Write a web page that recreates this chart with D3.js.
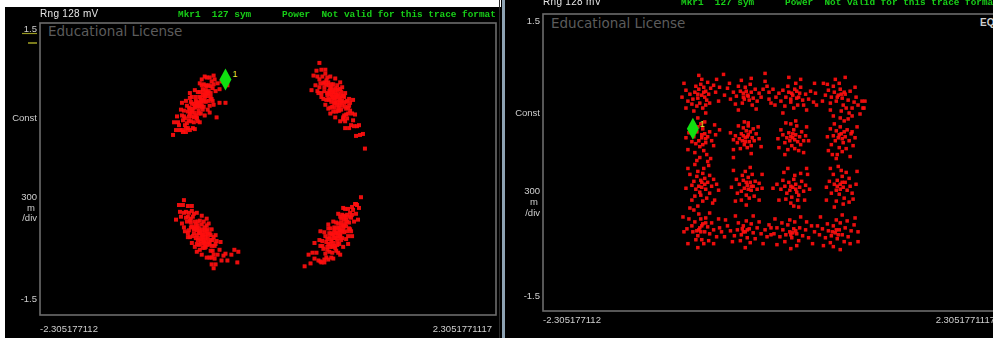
<!DOCTYPE html>
<html>
<head>
<meta charset="utf-8">
<script src="https://cdn.jsdelivr.net/npm/d3@7"></script>
<style>
  html, body { margin: 0; padding: 0; background: #ffffff; }
  svg { display: block; }
</style>
</head>
<body>
<svg id="chart" width="993" height="338"></svg>
<script>
// ---- Axis ranges and labels (I on x, Q on y) ----
const iDomain = [-2.3051771112, 2.3051771117];
const qDomain = [-1.5, 1.5];
const xTickLabels = ["-2.305177112", "2.3051771117"];
const yTopLabel = "1.5";
const yBottomLabel = "-1.5";
const yMidLabels = ["Const"];
const yScaleLabels = ["300", "m", "/div"];
const rangeLabel = "Rng 128 mV";
const markerReadout = ["Mkr1", "127 sym"];
const powerReadout = ["Power", "Not valid for this trace format"];
const licenseText = "Educational License";

// ---- QPSK measured symbols [I, Q] ----
const qpskUpperLeft = [
  [-0.69,0.68],[-0.66,0.79],[-0.73,0.55],[-0.63,0.69],[-0.77,0.67],[-0.68,0.57],[-0.71,0.79],[-0.60,0.80],
  [-0.80,0.54],[-0.75,0.48],[-0.65,0.87],[-0.82,0.65],[-0.57,0.72],[-0.78,0.49],[-0.62,0.85],[-0.84,0.52],
  [-0.55,0.87],[-0.72,0.69],[-0.67,0.67],[-0.76,0.62],[-0.64,0.75],[-0.87,0.55],[-0.89,0.40],[-0.86,0.38],
  [-0.91,0.48],[-0.93,0.40],[-0.88,0.61],[-0.95,0.48],[-0.83,0.38],[-0.79,0.73],[-0.59,0.65],[-0.53,0.80],
  [-0.51,0.88],[-0.49,0.82],[-0.54,0.92],[-0.47,0.90],[-0.74,0.58],[-0.69,0.74],[-0.70,0.60],[-0.61,0.75],
  [-0.81,0.59],[-0.58,0.85],[-0.73,0.74],[-0.66,0.61],[-0.85,0.60],[-0.56,0.70],[-0.77,0.54],[-0.63,0.86],
  [-0.90,0.45],[-0.92,0.54],[-0.65,0.70],[-0.71,0.68],[-0.79,0.57],[-0.68,0.73],[-0.75,0.67],[-0.60,0.70],
  [-0.82,0.47],[-0.72,0.53],[-0.62,0.79],[-0.96,0.35],[-0.49,0.68],[-0.43,0.68],[-0.52,0.53],[-0.41,0.86],
  [-0.67,0.92],[-0.45,0.90],[-0.70,0.65],[-0.67,0.71],[-0.74,0.63],[-0.64,0.73],[-0.77,0.60],[-0.72,0.66],
  [-0.66,0.76],[-0.79,0.62],[-0.61,0.78],[-0.84,0.45],[-0.80,0.50],[-0.86,0.50],[-0.58,0.78],[-0.43,0.92],
  [-0.69,0.88],[-0.69,0.48],[-0.64,0.95],[-0.74,0.81],[-0.74,0.41],[-0.64,0.55],[-0.59,0.94],[-0.79,0.40],
  [-0.79,0.78],[-0.59,0.58],[-0.55,0.96],[-0.83,0.70],[-0.83,0.42],[-0.55,0.66],[-0.87,0.68],[-0.87,0.40],
  [-0.67,0.86],[-0.71,0.49],[-0.62,0.94],[-0.76,0.42],[-0.61,0.61],[-0.77,0.74],[-0.57,0.90],[-0.81,0.42],
  [-0.66,0.82],[-0.72,0.52],[-0.69,0.79],[-0.70,0.57],[-0.63,0.81],[-0.75,0.53],[-0.65,0.64],[-0.73,0.70],
  [-0.60,0.86],[-0.78,0.69],[-0.58,0.74],[-0.80,0.63],[-0.68,0.70],[-0.72,0.64],[-0.67,0.64],[-0.74,0.65],
  [-0.63,0.77],[-0.77,0.58],[-0.56,0.83],[-0.85,0.54],[-0.69,0.64]
];
const qpskUpperRight = [
  [0.68,0.73],[0.71,0.77],[0.64,0.69],[0.74,0.61],[0.61,0.86],[0.69,0.59],[0.66,0.87],[0.77,0.68],
  [0.57,0.80],[0.63,0.63],[0.73,0.82],[0.55,0.95],[0.80,0.52],[0.59,0.71],[0.76,0.75],[0.53,0.88],
  [0.82,0.65],[0.65,0.79],[0.70,0.69],[0.62,0.80],[0.72,0.71],[0.50,0.95],[0.48,0.86],[0.51,0.78],
  [0.46,0.96],[0.86,0.50],[0.88,0.56],[0.84,0.45],[0.90,0.44],[0.58,0.98],[0.78,0.49],[0.68,0.79],
  [0.67,0.67],[0.75,0.65],[0.56,0.88],[0.79,0.69],[0.64,0.87],[0.71,0.60],[0.52,0.84],[0.81,0.57],
  [0.60,0.76],[0.74,0.79],[0.83,0.68],[0.49,1.01],[0.72,0.65],[0.66,0.77],[0.77,0.55],[0.62,0.77],
  [0.69,0.76],[0.73,0.73],[0.59,0.87],[0.85,0.57],[0.54,0.78],[0.70,0.81],[0.76,0.53],[0.65,0.73],
  [0.78,0.64],[0.61,0.89],[0.87,0.44],[0.92,0.45],[0.93,0.35],[0.89,0.34],[0.96,0.36],[0.44,0.81],
  [0.98,0.21],[0.52,1.09],[0.67,0.71],[0.70,0.75],[0.64,0.76],[0.73,0.68],[0.61,0.72],[0.75,0.70],
  [0.66,0.81],[0.79,0.62],[0.57,0.84],[0.83,0.60],[0.71,0.63],[0.63,0.83],
  [0.68,0.93],[0.68,0.53],[0.73,0.89],[0.63,0.95],[0.63,0.57],[0.73,0.49],[0.78,0.78],[0.58,0.66],
  [0.58,1.02],[0.78,0.42],[0.82,0.72],[0.54,1.02],[0.54,0.74],[0.82,0.42],[0.86,0.71],[0.50,0.80],
  [0.70,0.86],[0.66,0.59],[0.75,0.84],[0.61,0.62],[0.76,0.51],[0.60,0.94],[0.80,0.70],[0.56,0.72],
  [0.71,0.82],[0.65,0.64],[0.68,0.83],[0.67,0.63],[0.74,0.75],[0.62,0.71],[0.72,0.60],[0.64,0.84],
  [0.77,0.74],[0.59,0.91],[0.79,0.56],[0.57,0.89],[0.69,0.74],[0.65,0.74],[0.70,0.66],[0.63,0.81],
  [0.74,0.69],[0.60,0.78],[0.81,0.63],[0.52,0.92],[0.68,0.68]
];
const qpskLowerLeft = [
  [-0.67,-0.68],[-0.64,-0.63],[-0.71,-0.73],[-0.61,-0.78],[-0.74,-0.54],[-0.66,-0.81],[-0.69,-0.53],[-0.58,-0.73],
  [-0.78,-0.60],[-0.72,-0.77],[-0.62,-0.58],[-0.80,-0.45],[-0.55,-0.88],[-0.76,-0.69],[-0.59,-0.66],[-0.82,-0.54],
  [-0.53,-0.77],[-0.70,-0.61],[-0.65,-0.73],[-0.74,-0.60],[-0.63,-0.70],[-0.85,-0.45],[-0.87,-0.56],[-0.84,-0.64],
  [-0.89,-0.44],[-0.86,-0.37],[-0.81,-0.70],[-0.77,-0.43],[-0.57,-0.91],[-0.51,-0.88],[-0.49,-0.83],[-0.47,-0.94],
  [-0.52,-0.74],[-0.45,-0.89],[-0.72,-0.68],[-0.67,-0.62],[-0.68,-0.74],[-0.59,-0.77],[-0.79,-0.53],[-0.56,-0.73],
  [-0.71,-0.54],[-0.64,-0.81],[-0.83,-0.44],[-0.54,-0.92],[-0.75,-0.66],[-0.61,-0.62],[-0.88,-0.49],[-0.90,-0.37],
  [-0.63,-0.74],[-0.69,-0.64],[-0.77,-0.59],[-0.66,-0.65],[-0.73,-0.57],[-0.58,-0.84],[-0.80,-0.63],[-0.43,-0.87],
  [-0.41,-0.94],[-0.48,-0.75],[-0.34,-0.83],[-0.30,-0.85],[-0.37,-0.88],[-0.31,-0.96],[-0.93,-0.52],[-0.55,-1.02],
  [-0.66,-0.70],[-0.69,-0.66],[-0.63,-0.67],[-0.72,-0.63],[-0.60,-0.75],[-0.75,-0.61],[-0.64,-0.77],[-0.78,-0.55],
  [-0.57,-0.79],[-0.81,-0.49],[-0.70,-0.71],[-0.62,-0.64],
  [-0.67,-0.48],[-0.67,-0.88],[-0.62,-0.51],[-0.72,-0.45],[-0.72,-0.85],[-0.62,-0.91],[-0.57,-0.62],[-0.77,-0.76],
  [-0.77,-0.38],[-0.57,-0.98],[-0.53,-0.68],[-0.81,-0.38],[-0.81,-0.66],[-0.53,-0.98],[-0.85,-0.32],[-0.85,-0.60],
  [-0.65,-0.54],[-0.69,-0.83],[-0.60,-0.56],[-0.74,-0.80],[-0.59,-0.91],[-0.75,-0.46],[-0.55,-0.70],[-0.79,-0.70],
  [-0.64,-0.60],[-0.70,-0.78],[-0.67,-0.57],[-0.68,-0.77],[-0.61,-0.67],[-0.73,-0.71],[-0.63,-0.80],[-0.71,-0.58],
  [-0.58,-0.68],[-0.76,-0.49],[-0.56,-0.84],[-0.78,-0.51],[-0.66,-0.68],[-0.70,-0.66],[-0.65,-0.76],[-0.72,-0.61],
  [-0.61,-0.71],[-0.75,-0.62],[-0.54,-0.79],[-0.83,-0.50],[-0.67,-0.72]
];
const qpskLowerRight = [
  [0.71,-0.66],[0.74,-0.55],[0.67,-0.79],[0.77,-0.65],[0.64,-0.66],[0.72,-0.77],[0.69,-0.55],[0.80,-0.54],
  [0.60,-0.80],[0.65,-0.86],[0.75,-0.47],[0.58,-0.69],[0.83,-0.62],[0.62,-0.85],[0.78,-0.49],[0.56,-0.82],
  [0.85,-0.47],[0.68,-0.65],[0.73,-0.67],[0.64,-0.72],[0.76,-0.59],[0.53,-0.79],[0.51,-0.94],[0.54,-0.96],
  [0.49,-0.86],[0.52,-0.73],[0.57,-0.96],[0.61,-0.61],[0.81,-0.69],[0.87,-0.54],[0.89,-0.46],[0.91,-0.52],
  [0.86,-0.42],[0.90,-0.37],[0.66,-0.76],[0.71,-0.60],[0.70,-0.74],[0.79,-0.59],[0.59,-0.75],[0.82,-0.49],
  [0.67,-0.60],[0.74,-0.73],[0.55,-0.74],[0.84,-0.64],[0.63,-0.80],[0.77,-0.48],[0.47,-0.92],[0.45,-0.86],
  [0.75,-0.64],[0.69,-0.66],[0.61,-0.77],[0.72,-0.61],[0.65,-0.67],[0.80,-0.64],[0.58,-0.87],[0.88,-0.36],
  [0.92,-0.40],[0.43,-0.97],[0.37,-1.00],[0.41,-0.88],[0.47,-0.76],[0.53,-0.64],[0.94,-0.29],[0.73,-0.88],
  [0.70,-0.69],[0.73,-0.63],[0.67,-0.71],[0.76,-0.62],[0.64,-0.74],[0.78,-0.56],[0.62,-0.70],[0.74,-0.58],
  [0.68,-0.61],[0.82,-0.55],[0.60,-0.83],[0.79,-0.52],
  [0.71,-0.46],[0.71,-0.86],[0.76,-0.40],[0.66,-0.54],[0.66,-0.92],[0.76,-0.80],[0.81,-0.41],[0.61,-0.93],
  [0.61,-0.57],[0.81,-0.77],[0.85,-0.39],[0.57,-0.65],[0.57,-0.93],[0.85,-0.69],[0.89,-0.36],[0.53,-0.95],
  [0.73,-0.49],[0.69,-0.84],[0.78,-0.41],[0.64,-0.91],[0.79,-0.72],[0.63,-0.61],[0.83,-0.45],[0.59,-0.91],
  [0.74,-0.51],[0.68,-0.81],[0.71,-0.56],[0.70,-0.78],[0.77,-0.52],[0.65,-0.80],[0.75,-0.71],[0.67,-0.63],
  [0.80,-0.47],[0.62,-0.66],[0.82,-0.61],[0.60,-0.72],[0.72,-0.63],[0.68,-0.71],[0.73,-0.69],[0.66,-0.68],
  [0.77,-0.58],[0.63,-0.77],[0.84,-0.50],[0.55,-0.79],[0.71,-0.71]
];
const qpskMarker = [-0.43, 0.92];

// ---- 16-QAM measured symbols [I, Q], row by row from the top ----
const qamRow1 = [
  [-0.70,0.68],[-0.66,0.72],[-0.74,0.65],[-0.68,0.76],[-0.63,0.69],[-0.77,0.71],[-0.72,0.60],[-0.65,0.63],
  [-0.79,0.64],[-0.61,0.75],[-0.71,0.79],[-0.75,0.57],[-0.67,0.66],[-0.73,0.74],[-0.82,0.69],[-0.64,0.81],
  [-0.69,0.55],[-0.58,0.78],[-0.76,0.77],[-0.80,0.59],[-0.62,0.60],[-0.84,0.62],[-0.70,0.84],[-0.56,0.71],
  [-0.78,0.52],[-0.66,0.58],[-0.86,0.73],
  [-0.86,0.55],[-0.55,0.84],[-0.88,0.80],[-0.53,0.62],[-0.73,0.88],[-0.66,0.50],[-0.90,0.66],[-0.52,0.76],
  [-0.74,0.69],[-0.68,0.71],
  [-0.24,0.68],[-0.20,0.71],[-0.28,0.66],[-0.16,0.74],[-0.31,0.72],[-0.22,0.63],[-0.26,0.76],[-0.12,0.70],
  [-0.35,0.67],[-0.18,0.65],[-0.29,0.60],[-0.21,0.79],[-0.08,0.74],[-0.38,0.71],[-0.14,0.62],[-0.33,0.77],
  [-0.25,0.72],[-0.04,0.77],[-0.41,0.64],[-0.19,0.58],[-0.30,0.83],[-0.10,0.66],[-0.36,0.59],[-0.27,0.64],
  [-0.02,0.71],[-0.44,0.75],
  [-0.47,0.68],[-0.02,0.64],[-0.20,0.85],[-0.33,0.53],[-0.06,0.82],[-0.42,0.80],[-0.15,0.54],[-0.23,0.67],
  [-0.28,0.70],[0.00,0.60],
  [0.22,0.68],[0.26,0.65],[0.18,0.71],[0.29,0.70],[0.15,0.66],[0.24,0.74],[0.20,0.61],[0.32,0.63],
  [0.12,0.73],[0.27,0.58],[0.35,0.69],[0.17,0.77],[0.10,0.62],[0.30,0.76],[0.23,0.55],[0.38,0.64],
  [0.08,0.70],[0.25,0.80],[0.14,0.57],[0.33,0.58],[0.40,0.72],[0.05,0.66],[0.20,0.64],[0.28,0.66],[0.43,0.61],
  [0.45,0.70],[0.02,0.74],[0.30,0.84],[0.12,0.50],[0.36,0.53],[0.18,0.86],[0.46,0.58],[0.21,0.70],
  [0.26,0.72],[0.04,0.58],
  [0.68,0.68],[0.72,0.65],[0.64,0.71],[0.70,0.74],[0.75,0.69],[0.61,0.66],[0.66,0.62],[0.78,0.63],
  [0.73,0.58],[0.63,0.77],[0.80,0.72],[0.58,0.73],[0.69,0.80],[0.84,0.61],[0.76,0.55],[0.60,0.60],
  [0.86,0.66],[0.71,0.52],[0.55,0.68],[0.82,0.55],[0.65,0.84],[0.88,0.58],[0.79,0.50],[0.74,0.71],
  [0.90,0.49],[0.57,0.79],
  [0.92,0.62],[0.52,0.62],[0.75,0.86],[0.60,0.53],[0.94,0.55],[0.85,0.76],[0.82,0.47],[0.67,0.66],
  [0.71,0.69],[0.53,0.80]
];
const qamRow2 = [
  [-0.70,0.25],[-0.67,0.29],[-0.73,0.22],[-0.66,0.20],[-0.75,0.31],[-0.69,0.34],[-0.64,0.26],[-0.72,0.16],
  [-0.78,0.26],[-0.62,0.31],[-0.71,0.39],[-0.68,0.12],[-0.76,0.19],[-0.60,0.22],[-0.74,0.36],[-0.80,0.21],
  [-0.65,0.08],[-0.72,0.05],[-0.58,0.17],[-0.83,0.30],[-0.67,0.41],[-0.61,0.04],[-0.77,0.10],[-0.69,0.18],
  [-0.86,0.25],[-0.56,0.28],[-0.74,0.45],[-0.64,0.01],[-0.84,0.13],[-0.57,0.38],[-0.79,0.40],[-0.70,0.28],
  [-0.66,0.24],[-0.75,0.02],
  [-0.26,0.25],[-0.23,0.28],[-0.29,0.22],[-0.22,0.21],[-0.30,0.29],[-0.25,0.32],[-0.19,0.25],[-0.32,0.24],
  [-0.27,0.18],[-0.21,0.31],[-0.34,0.20],[-0.24,0.15],[-0.17,0.22],[-0.28,0.35],[-0.36,0.27],[-0.20,0.17],
  [-0.31,0.14],[-0.15,0.29],[-0.26,0.21],[-0.23,0.37],[-0.38,0.23],[-0.18,0.34],
  [-0.41,0.30],[-0.12,0.24],[-0.27,0.41],[-0.20,0.09],[-0.38,0.13],[-0.13,0.36],[-0.33,0.37],[-0.24,0.26],
  [-0.28,0.27],[-0.10,0.16],
  [0.22,0.25],[0.25,0.28],[0.19,0.22],[0.27,0.21],[0.18,0.30],[0.23,0.33],[0.29,0.26],[0.16,0.25],
  [0.21,0.17],[0.31,0.31],[0.14,0.20],[0.26,0.37],[0.24,0.14],[0.33,0.22],[0.12,0.28],[0.20,0.39],
  [0.28,0.12],[0.35,0.27],[0.17,0.13],[0.30,0.18],[0.10,0.33],[0.22,0.29],
  [0.38,0.22],[0.07,0.24],[0.25,0.42],[0.14,0.08],[0.36,0.36],[0.08,0.15],[0.33,0.10],[0.20,0.26],
  [0.24,0.23],[0.15,0.40],
  [0.68,0.25],[0.71,0.29],[0.65,0.22],[0.73,0.20],[0.66,0.32],[0.70,0.36],[0.75,0.26],[0.63,0.27],
  [0.69,0.15],[0.77,0.33],[0.72,0.11],[0.64,0.39],[0.79,0.22],[0.61,0.18],[0.74,0.42],[0.67,0.08],
  [0.81,0.29],[0.70,0.45],[0.76,0.14],[0.60,0.34],[0.83,0.17],[0.66,0.04],[0.72,0.24],
  [0.85,0.25],[0.57,0.26],[0.78,0.44],[0.63,0.47],[0.87,0.36],[0.62,0.08],[0.80,0.06],[0.69,0.28],
  [0.74,0.31],[0.58,0.12]
];
const qamRow3 = [
  [-0.70,-0.20],[-0.67,-0.16],[-0.73,-0.24],[-0.66,-0.27],[-0.75,-0.14],[-0.69,-0.11],[-0.64,-0.20],[-0.72,-0.30],
  [-0.78,-0.19],[-0.62,-0.13],[-0.71,-0.33],[-0.68,-0.06],[-0.76,-0.27],[-0.60,-0.24],[-0.74,-0.09],[-0.80,-0.23],
  [-0.65,-0.36],[-0.58,-0.17],[-0.82,-0.12],[-0.69,-0.39],[-0.62,-0.31],[-0.77,-0.34],[-0.55,-0.22],[-0.70,-0.25],
  [-0.86,-0.26],[-0.53,-0.28],[-0.74,-0.44],[-0.63,-0.03],[-0.84,-0.06],[-0.57,-0.38],[-0.80,-0.38],[-0.71,-0.18],
  [-0.67,-0.22],[-0.77,-0.02],
  [-0.24,-0.23],[-0.21,-0.20],[-0.27,-0.26],[-0.20,-0.28],[-0.28,-0.18],[-0.23,-0.15],[-0.18,-0.24],[-0.30,-0.29],
  [-0.25,-0.33],[-0.16,-0.19],[-0.32,-0.22],[-0.22,-0.36],[-0.19,-0.12],[-0.29,-0.13],[-0.14,-0.27],[-0.34,-0.31],
  [-0.26,-0.09],[-0.17,-0.34],[-0.35,-0.17],[-0.23,-0.27],[-0.12,-0.21],[-0.30,-0.38],
  [-0.40,-0.25],[-0.09,-0.26],[-0.25,-0.43],[-0.21,-0.05],[-0.38,-0.08],[-0.12,-0.38],[-0.36,-0.39],[-0.25,-0.20],
  [-0.20,-0.24],[-0.09,-0.12],
  [0.22,-0.25],[0.25,-0.22],[0.19,-0.28],[0.26,-0.30],[0.18,-0.20],[0.23,-0.17],[0.29,-0.25],[0.16,-0.31],
  [0.21,-0.35],[0.31,-0.19],[0.14,-0.24],[0.27,-0.38],[0.24,-0.13],[0.33,-0.29],[0.12,-0.18],[0.20,-0.41],
  [0.30,-0.11],[0.35,-0.23],[0.15,-0.37],[0.28,-0.33],[0.10,-0.27],[0.23,-0.44],
  [0.39,-0.27],[0.06,-0.22],[0.28,-0.45],[0.17,-0.06],[0.37,-0.12],[0.08,-0.38],[0.34,-0.38],[0.20,-0.24],
  [0.25,-0.27],[0.13,-0.10],
  [0.70,-0.22],[0.67,-0.18],[0.73,-0.25],[0.66,-0.28],[0.72,-0.14],[0.75,-0.20],[0.64,-0.22],[0.69,-0.32],
  [0.77,-0.28],[0.63,-0.12],[0.71,-0.08],[0.74,-0.36],[0.79,-0.16],[0.61,-0.31],[0.68,-0.04],[0.80,-0.24],
  [0.66,-0.39],[0.76,-0.10],[0.59,-0.19],[0.82,-0.31],[0.73,-0.42],[0.70,-0.27],
  [0.86,-0.22],[0.56,-0.25],[0.79,-0.40],[0.64,-0.45],[0.87,-0.09],[0.60,-0.06],[0.83,-0.37],[0.72,-0.20],
  [0.67,-0.24],[0.56,-0.38]
];
const qamRow4 = [
  [-0.72,-0.66],[-0.69,-0.62],[-0.75,-0.69],[-0.67,-0.70],[-0.77,-0.60],[-0.71,-0.57],[-0.64,-0.65],[-0.74,-0.74],
  [-0.80,-0.64],[-0.66,-0.56],[-0.70,-0.78],[-0.62,-0.72],[-0.79,-0.70],[-0.73,-0.52],[-0.60,-0.61],[-0.83,-0.57],
  [-0.68,-0.82],[-0.76,-0.78],[-0.58,-0.68],[-0.85,-0.67],[-0.63,-0.79],[-0.78,-0.48],[-0.55,-0.75],[-0.71,-0.70],
  [-0.66,-0.61],
  [-0.88,-0.70],[-0.52,-0.66],[-0.74,-0.86],[-0.62,-0.51],[-0.89,-0.55],[-0.58,-0.82],[-0.84,-0.82],[-0.70,-0.64],
  [-0.73,-0.68],[-0.53,-0.57],
  [-0.26,-0.70],[-0.22,-0.67],[-0.30,-0.73],[-0.18,-0.71],[-0.34,-0.68],[-0.24,-0.76],[-0.28,-0.64],[-0.14,-0.66],
  [-0.37,-0.74],[-0.20,-0.62],[-0.31,-0.79],[-0.10,-0.72],[-0.41,-0.69],[-0.25,-0.59],[-0.16,-0.77],[-0.44,-0.64],
  [-0.06,-0.68],[-0.33,-0.61],[-0.21,-0.81],[-0.47,-0.75],[-0.12,-0.60],[-0.28,-0.70],[-0.39,-0.80],
  [-0.50,-0.70],[-0.04,-0.75],[-0.26,-0.86],[-0.18,-0.54],[-0.46,-0.58],[-0.08,-0.82],[-0.36,-0.54],[-0.24,-0.68],
  [-0.29,-0.67],[-0.02,-0.63],
  [0.19,-0.70],[0.23,-0.67],[0.15,-0.73],[0.26,-0.72],[0.12,-0.68],[0.21,-0.76],[0.17,-0.63],[0.29,-0.66],
  [0.09,-0.75],[0.24,-0.60],[0.32,-0.74],[0.14,-0.80],[0.06,-0.66],[0.28,-0.79],[0.35,-0.68],[0.19,-0.58],
  [0.03,-0.72],[0.38,-0.76],[0.11,-0.61],[0.26,-0.84],[0.22,-0.71],[0.41,-0.64],
  [0.44,-0.70],[0.00,-0.66],[0.20,-0.87],[0.30,-0.55],[0.42,-0.82],[0.06,-0.83],[0.04,-0.57],[0.20,-0.73],
  [0.25,-0.69],[0.36,-0.60],
  [0.65,-0.71],[0.69,-0.68],[0.61,-0.74],[0.72,-0.73],[0.58,-0.69],[0.67,-0.77],[0.63,-0.64],[0.75,-0.66],
  [0.55,-0.76],[0.70,-0.61],[0.78,-0.75],[0.60,-0.81],[0.52,-0.67],[0.74,-0.80],[0.81,-0.69],[0.66,-0.58],
  [0.49,-0.73],[0.77,-0.59],[0.57,-0.62],[0.84,-0.63],[0.63,-0.85],[0.80,-0.82],[0.68,-0.73],
  [0.88,-0.70],[0.47,-0.64],[0.70,-0.88],[0.72,-0.53],[0.88,-0.80],[0.53,-0.84],[0.85,-0.56],[0.66,-0.68],
  [0.62,-0.70],[0.50,-0.55]
];
const qamStray = [
  [-0.48,0.89],[0.93,0.55],[0.44,0.80],[-0.52,0.33],[0.36,-0.06],[0.02,-0.26],[-0.59,-0.41],
  [-0.23,0.40],[0.82,0.31],[-0.38,0.05],[0.00,-0.73],[-0.82,-0.46],[0.95,0.62],[-0.06,0.90]
];
const qamMarker = [-0.79, 0.34];

// ---- Panel layout ----
const panels = [
  {
    frame: { x0: 40, x1: 496, y0: 23, y1: 315 },
    symbols: [qpskUpperLeft, qpskUpperRight, qpskLowerLeft, qpskLowerRight].flat(),
    dot: 4,
    marker: qpskMarker,
    headerY: 17,
    refUnderline: true,
    yLab: { top: 32, cnst: 121, s300: 200, m: 211, div: 221, bottom: 302 },
    xLabY: 332,
    licenseY: 36,
    eq: false
  },
  {
    frame: { x0: 543, x1: 999, y0: 14, y1: 311 },
    symbols: [qamRow1, qamRow2, qamRow3, qamRow4, qamStray].flat(),
    dot: 3.5,
    marker: qamMarker,
    headerY: 5,
    refUnderline: false,
    yLab: { top: 24, cnst: 116, s300: 194, m: 205, div: 216, bottom: 299 },
    xLabY: 323,
    licenseY: 28,
    eq: true
  }
];

const svg = d3.select("#chart");
const defs = svg.append("defs");
defs.append("filter").attr("id", "soft")
  .attr("x", "-20%").attr("y", "-20%").attr("width", "140%").attr("height", "140%")
  .append("feGaussianBlur").attr("stdDeviation", 0.45);
defs.append("filter").attr("id", "softText")
  .append("feGaussianBlur").attr("stdDeviation", 0.25);

// Screen background pieces
svg.append("rect").attr("x", 0).attr("y", 0).attr("width", 993).attr("height", 338).attr("fill", "#ffffff");
svg.append("rect").attr("x", 5).attr("y", 7).attr("width", 497).attr("height", 331).attr("fill", "#000000");
svg.append("rect").attr("x", 501).attr("y", 0).attr("width", 492).attr("height", 338).attr("fill", "#000000");
svg.append("rect").attr("x", 502).attr("y", 0).attr("width", 3).attr("height", 338).attr("fill", "#8da2b2");
svg.append("rect").attr("x", 499).attr("y", 0).attr("width", 1).attr("height", 338).attr("fill", "#2a2a2a");

const labelFont = "'Liberation Sans', Arial, sans-serif";
const monoFont = "'Liberation Mono', 'DejaVu Sans Mono', monospace";

panels.forEach(p => {
  const f = p.frame;
  const x = d3.scaleLinear().domain(iDomain).range([f.x0, f.x1]);
  const y = d3.scaleLinear().domain(qDomain).range([f.y1, f.y0]);
  const g = svg.append("g");

  // Header readouts
  const hdr = g.append("g").attr("filter", "url(#softText)");
  hdr.append("text").attr("x", f.x0).attr("y", p.headerY)
    .attr("font-family", labelFont).attr("font-size", 10).attr("letter-spacing", 0.3)
    .attr("fill", "#e6e6e6").text(rangeLabel);
  hdr.append("text").attr("x", f.x0 + 138).attr("y", p.headerY)
    .attr("font-family", monoFont).attr("font-size", 9.4).attr("font-weight", "bold")
    .attr("fill", "#19cf19").attr("xml:space", "preserve")
    .text(markerReadout[0] + "  " + markerReadout[1]);
  hdr.append("text").attr("x", f.x0 + 242).attr("y", p.headerY)
    .attr("font-family", monoFont).attr("font-size", 9.4).attr("font-weight", "bold")
    .attr("fill", "#19cf19").attr("xml:space", "preserve")
    .text(powerReadout[0] + "  " + powerReadout[1]);

  // Graticule frame
  g.append("rect").attr("x", f.x0).attr("y", f.y0)
    .attr("width", f.x1 - f.x0).attr("height", f.y1 - f.y0)
    .attr("fill", "none").attr("stroke", "#6c6c6c").attr("stroke-width", 1.6);

  // Watermark
  g.append("text").attr("x", f.x0 + 8).attr("y", p.licenseY)
    .attr("font-family", "'DejaVu Sans', sans-serif").attr("font-size", 13.5)
    .attr("fill", "#5c5c5c").text(licenseText);
  if (p.eq) {
    g.append("text").attr("x", 980).attr("y", p.licenseY - 2)
      .attr("font-family", labelFont).attr("font-size", 10).attr("font-weight", "bold")
      .attr("fill", "#d0d0d0").text("EQ");
  }

  // Y-axis annotations (right-aligned against the frame)
  const yl = g.append("g").attr("font-family", labelFont).attr("font-size", 9.5)
    .attr("fill", "#cfcfcf").attr("text-anchor", "end").attr("filter", "url(#softText)");
  yl.append("text").attr("x", f.x0 - 3).attr("y", p.yLab.top).text(yTopLabel);
  yl.append("text").attr("x", f.x0 - 3).attr("y", p.yLab.cnst).text(yMidLabels[0]);
  yl.append("text").attr("x", f.x0 - 3).attr("y", p.yLab.s300).text(yScaleLabels[0]);
  yl.append("text").attr("x", f.x0 - 5).attr("y", p.yLab.m).text(yScaleLabels[1]);
  yl.append("text").attr("x", f.x0 - 3).attr("y", p.yLab.div).text(yScaleLabels[2]);
  yl.append("text").attr("x", f.x0 - 3).attr("y", p.yLab.bottom).text(yBottomLabel);

  if (p.refUnderline) {
    g.append("line").attr("x1", f.x0 - 18).attr("x2", f.x0 - 3)
      .attr("y1", p.yLab.top + 1.5).attr("y2", p.yLab.top + 1.5)
      .attr("stroke", "#9a9a22").attr("stroke-width", 1.2);
    g.append("line").attr("x1", f.x0 - 12).attr("x2", f.x0 - 3)
      .attr("y1", p.yLab.top + 11).attr("y2", p.yLab.top + 11)
      .attr("stroke", "#9a9a22").attr("stroke-width", 1.6);
  }

  // X-axis end labels
  const xl = g.append("g").attr("font-family", labelFont).attr("font-size", 9.5)
    .attr("fill", "#cfcfcf").attr("filter", "url(#softText)");
  xl.append("text").attr("x", x(iDomain[0])).attr("y", p.xLabY).text(xTickLabels[0]);
  xl.append("text").attr("x", x(iDomain[1]) - 4).attr("y", p.xLabY)
    .attr("text-anchor", "end").text(xTickLabels[1]);

  // Constellation symbols
  g.append("g").attr("filter", "url(#soft)")
    .selectAll("rect").data(p.symbols).join("rect")
    .attr("x", d => x(d[0]) - p.dot / 2).attr("y", d => y(d[1]) - p.dot / 2)
    .attr("width", p.dot).attr("height", p.dot)
    .attr("fill", "#ff1010").attr("fill-opacity", 0.92);

  // Marker 1
  const mx = x(p.marker[0]), my = y(p.marker[1]);
  g.append("path")
    .attr("d", `M${mx},${my - 11} L${mx + 6},${my} L${mx},${my + 11} L${mx - 6},${my} Z`)
    .attr("fill", "#10e010");
  g.append("text").attr("x", mx + 7).attr("y", my - 2)
    .attr("font-family", labelFont).attr("font-size", 9).attr("fill", "#e8e830").text("1");
});
</script>
</body>
</html>
